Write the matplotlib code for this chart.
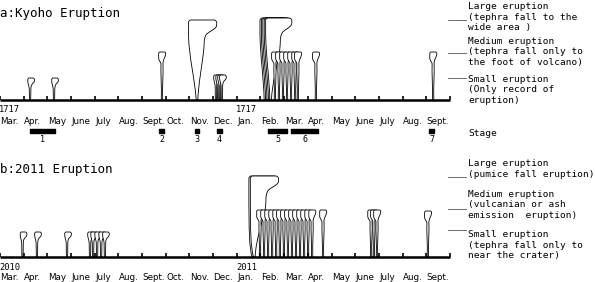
import matplotlib
matplotlib.use("Agg")
import matplotlib.pyplot as plt
from matplotlib.path import Path
from matplotlib.patches import PathPatch

# month axis (both panels run Mar. -> Sept. of the following year)
months = ['Mar.', 'Apr.', 'May', 'June', 'July', 'Aug.', 'Sept.', 'Oct.', 'Nov.',
          'Dec.', 'Jan.', 'Feb.', 'Mar.', 'Apr.', 'May', 'June', 'July', 'Aug.', 'Sept.']
years_a = ['1717', '1717']
years_b = ['2010', '2011']
year_pos = [0, 10]

# a: Kyoho eruption, time in months from start of Mar., plume height, size class
kyoho_t = [1.27, 2.28, 6.84, 8.32, 9.12, 9.21, 9.29, 9.37,
           11.19, 11.25, 11.31, 11.37, 11.43,
           11.61, 11.78, 11.95, 12.12, 12.29, 12.46, 12.58, 13.34, 18.29]
kyoho_h = [22, 22, 48, 80, 25, 25, 25, 25,
           82, 82, 82, 82, 82,
           48, 48, 48, 48, 48, 48, 48, 48, 48]
kyoho_size = ['S', 'S', 'M', 'L', 'S', 'S', 'S', 'S',
              'L', 'L', 'L', 'L', 'L',
              'M', 'M', 'M', 'M', 'M', 'M', 'M', 'M', 'M']

# stages of the Kyoho eruption (start, end in months)
stage_start = [1.27, 6.71, 8.23, 9.16, 11.32, 12.29, 18.12]
stage_end = [2.32, 6.93, 8.40, 9.37, 12.12, 13.43, 18.33]
stage_num = ['1', '2', '3', '4', '5', '6', '7']

# b: 2011 eruption
e2011_t = [0.95, 1.56, 2.83, 3.80, 3.93, 4.10, 4.27, 4.43,
           10.68, 10.74,
           10.98, 11.15, 11.32, 11.49, 11.66, 11.82, 11.99, 12.16,
           12.33, 12.50, 12.67, 12.84, 13.01, 13.18, 13.64,
           15.67, 15.79, 15.92, 18.07]
e2011_h = [25, 25, 25, 25, 25, 25, 25, 25,
           81, 81,
           47, 47, 47, 47, 47, 47, 47, 47,
           47, 47, 47, 47, 47, 47, 47,
           47, 47, 47, 46]
e2011_size = ['S'] * 8 + ['L'] * 2 + ['M'] * 15 + ['M'] * 4

PX = 23.68  # pixels per month


def plume_verts(kind, h, hl=-6, hr=20, straight=False):
    if kind == 'S':
        v = [(-0.6, 0), (-0.8, h - 11),
             (-1.0, h - 8), (-2.3, h - 6), (-2.3, h - 2),
             (-2.3, h), (-1.0, h),
             (2.8, h),
             (4.8, h), (5.0, h - 3.5), (3.2, h - 5),
             (1.8, h - 6), (0.8, h - 8), (0.8, h - 11),
             (0.6, 0), (0, 0)]
        c = [Path.MOVETO, Path.LINETO,
             Path.CURVE4, Path.CURVE4, Path.CURVE4,
             Path.CURVE3, Path.CURVE3,
             Path.LINETO,
             Path.CURVE4, Path.CURVE4, Path.CURVE4,
             Path.CURVE4, Path.CURVE4, Path.CURVE4,
             Path.LINETO, Path.CLOSEPOLY]
    elif kind == 'M':
        v = [(-0.7, 0),
             (-0.3, 0.3 * h), (-1.3, 0.55 * h), (-1.0, h - 12),
             (-1.0, h - 10), (-3.3, h - 9), (-3.3, h - 6),
             (-3.3, h - 1.5),
             (-3.3, h), (-1.8, h),
             (2.2, h),
             (3.7, h), (3.7, h - 1.5),
             (3.7, h - 5), (1.2, h - 7), (1.0, h - 11),
             (1.4, 0.55 * h), (0.3, 0.3 * h), (0.7, 0),
             (0, 0)]
        c = [Path.MOVETO,
             Path.CURVE4, Path.CURVE4, Path.CURVE4,
             Path.CURVE4, Path.CURVE4, Path.CURVE4,
             Path.LINETO,
             Path.CURVE3, Path.CURVE3,
             Path.LINETO,
             Path.CURVE3, Path.CURVE3,
             Path.CURVE4, Path.CURVE4, Path.CURVE4,
             Path.CURVE4, Path.CURVE4, Path.CURVE4,
             Path.CLOSEPOLY]
    else:
        nk = (hl + hr) / 2 + 2
        if straight:
            c1, c2 = (hl * 0.9, 0.12 * h), (hl, 0.3 * h)
        else:
            c1, c2 = (hl * 0.3, 0.3 * h), (hl * 0.9, 0.5 * h)
        v = [(-0.8, 0),
             c1, c2, (hl, 0.8 * h),
             (hl, h - 2.5),
             (hl, h), (hl + 2.5, h),
             (hr - 3, h),
             (hr + 0.5, h), (hr + 0.5, h - 3), (hr, h - 6),
             (hr - 1, h - 10), (nk + 2, h - 12), (nk + 1, h - 16),
             (nk - 1, h - 20), (nk, h - 24), (nk - 1, 0.6 * h),
             (nk * 0.6, 0.4 * h), (1.5, 0.2 * h), (0.8, 0),
             (0, 0)]
        c = [Path.MOVETO,
             Path.CURVE4, Path.CURVE4, Path.CURVE4,
             Path.LINETO,
             Path.CURVE3, Path.CURVE3,
             Path.LINETO,
             Path.CURVE4, Path.CURVE4, Path.CURVE4,
             Path.CURVE4, Path.CURVE4, Path.CURVE4,
             Path.CURVE4, Path.CURVE4, Path.CURVE4,
             Path.CURVE4, Path.CURVE4, Path.CURVE4,
             Path.CLOSEPOLY]
    return v, c


def draw_plumes(ax, ts, hs, sizes, large_heads):
    n_large = 0
    for t, h, s in zip(ts, hs, sizes):
        hl, hr, st = large_heads[min(n_large, len(large_heads) - 1)]
        v, c = plume_verts(s, h, hl, hr, st)
        if s == 'L':
            n_large += 1
        v = [(t + dx / PX, y) for dx, y in v]
        ax.add_patch(PathPatch(Path(v, c), facecolor='white', edgecolor='black',
                               lw=0.6, zorder=2))


def axis_line(ax, years, year_y, month_y):
    ax.plot([0, len(months)], [0, 0], color='black', lw=1.8,
            solid_capstyle='butt', zorder=3)
    ax.vlines(range(len(months) + 1), 0, 4.5, color='black', lw=1.2, zorder=3)
    for i, m in enumerate(months):
        ax.text(i + 0.02, month_y, m, ha='left', va='center', fontsize=6.3,
                family='DejaVu Sans')
    for p, y in zip(year_pos, years):
        ax.text(p - 0.04, year_y, y, ha='left', va='center', fontsize=6.3,
                family='DejaVu Sans Mono')


fig = plt.figure(figsize=(5.95, 2.82), dpi=100)
ax_a = fig.add_axes([0, 0.5, 1, 0.5])
ax_b = fig.add_axes([0, 0, 1, 0.5])
ax_a.set_xlim(0, 595 / PX)
ax_b.set_xlim(0, 595 / PX)
ax_a.set_ylim(-41, 100)
ax_b.set_ylim(-25, 116)
for ax in (ax_a, ax_b):
    ax.axis('off')

mono = 'DejaVu Sans Mono'
lfs = 6.8

# panel a
ax_a.text(0.0, 87, 'a:Kyoho Eruption', fontsize=9, family=mono, va='center')
draw_plumes(ax_a, kyoho_t, kyoho_h, kyoho_size,
            [(-8.5, 19.5, False), (-5, 21, False)])
axis_line(ax_a, years_a, -10, -21)
ax_a.broken_barh([(s, e - s) for s, e in zip(stage_start, stage_end)], (-33, 4),
                 color='black')
for s, e, n in zip(stage_start, stage_end, stage_num):
    ax_a.text((s + e) / 2, -40, n, ha='center', va='center', fontsize=6, family=mono)

leg_x0, leg_x1, leg_tx = 448 / PX, 466 / PX, 468 / PX
for y in [80, 47, 22]:
    ax_a.plot([leg_x0, leg_x1], [y, y], color='#555555', lw=0.6)
ax_a.text(leg_tx, 83, 'Large eruption\n(tephra fall to the\nwide area )',
          fontsize=lfs, family=mono, va='center')
ax_a.text(leg_tx, 48, 'Medium eruption\n(tephra fall only to\nthe foot of volcano)',
          fontsize=lfs, family=mono, va='center')
ax_a.text(leg_tx, 10, 'Small eruption\n(Only record of\neruption)',
          fontsize=lfs, family=mono, va='center')
ax_a.text(leg_tx, -33, 'Stage', fontsize=lfs, family=mono, va='center')

# panel b
ax_b.text(0.0, 88, 'b:2011 Eruption', fontsize=9, family=mono, va='center')
draw_plumes(ax_b, e2011_t, e2011_h, e2011_size, [(-4, 24, True), (-4, 24, True)])
axis_line(ax_b, years_b, -11, -20)
for y in [80, 48, 27]:
    ax_b.plot([leg_x0, leg_x1], [y, y], color='#555555', lw=0.6)
ax_b.text(leg_tx, 88, 'Large eruption\n(pumice fall eruption)',
          fontsize=lfs, family=mono, va='center')
ax_b.text(leg_tx, 52, 'Medium eruption\n(vulcanian or ash\nemission  eruption)',
          fontsize=lfs, family=mono, va='center')
ax_b.text(leg_tx, 12, 'Small eruption\n(tephra fall only to\nnear the crater)',
          fontsize=lfs, family=mono, va='center')

fig.savefig('out.png', dpi=100)
